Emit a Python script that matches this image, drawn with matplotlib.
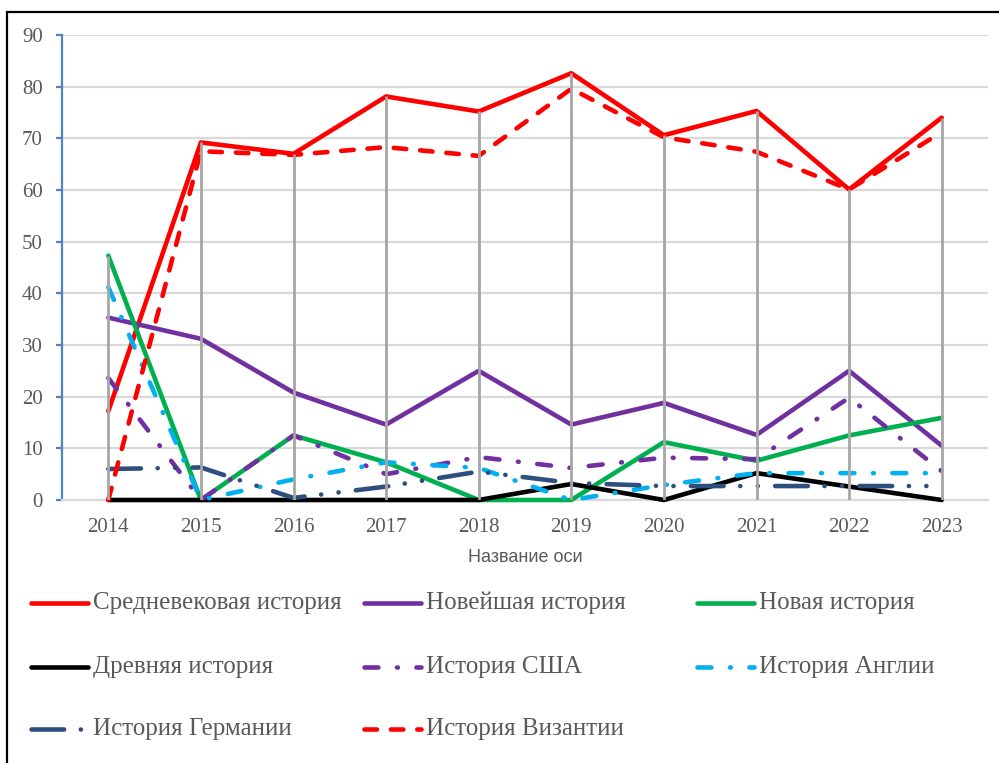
import matplotlib
matplotlib.use('Agg')
import matplotlib.pyplot as plt
from matplotlib.lines import Line2D
from matplotlib.patches import Rectangle
import numpy as np

# data
years = ['2014', '2015', '2016', '2017', '2018', '2019', '2020', '2021', '2022', '2023']
medieval = [17.2, 69.2, 67.0, 78.1, 75.2, 82.6, 70.6, 75.3, 60.1, 74.0]
newest = [35.3, 31.2, 20.8, 14.6, 25.0, 14.6, 18.8, 12.6, 25.0, 10.5]
modern = [47.3, 0, 12.5, 7.3, 0, 0, 11.2, 7.6, 12.5, 15.9]
ancient = [0, 0, 0, 0, 0, 3.1, 0, 5.2, 2.6, 0]
usa = [23.6, 0, 12.5, 5.0, 8.3, 6.2, 8.2, 7.9, 19.8, 5.6]
england = [41.2, 0, 4.0, 7.3, 6.2, 0, 2.9, 5.2, 5.2, 5.2]
germany = [6.0, 6.3, 0.4, 2.6, 5.5, 3.3, 2.7, 2.7, 2.7, 2.7]
byzantium = [0, 67.5, 66.8, 68.3, 66.6, 79.6, 70.2, 67.4, 60.1, 71.2]

names = ['Средневековая история', 'Новейшая история', 'Новая история',
         'Древняя история', 'История США', 'История Англии',
         'История Германии', 'История Византии']
values = [medieval, newest, modern, ancient, usa, england, germany, byzantium]

colors = ['#FF0000', '#7030A0', '#00B050', '#000000',
          '#7030A0', '#00B0F0', '#2E4F7E', '#FF0000']
# dash patterns in points (None = solid line)
dash_dot = (10, 13.4, 0.6, 13.4)
dashes = [None, None, None, None,
          dash_dot, dash_dot,
          (23.5, 12, 0.1, 12.5, 0.1, 12.5),
          (9, 10)]

plt.rcParams['lines.scale_dashes'] = False
serif = 'Liberation Serif'
grey_txt = '#595959'
LW = 3.3

W, H = 999, 763
fig = plt.figure(figsize=(W / 100, H / 100), dpi=100)
fig.patch.set_facecolor('white')

def fx(px):
    return px / W

def fy(py):
    return 1 - py / H

ax = fig.add_axes([fx(62), fy(500), fx(988) - fx(62), fy(35) - fy(500)])
x = np.arange(len(years))

ax.set_xlim(-0.5, len(years) - 0.5)
ax.set_ylim(0, 90)
ax.set_yticks(range(0, 91, 10))
ax.set_xticks(x)
ax.set_xticklabels(years)

ax.grid(axis='y', color='#D9D9D9', linewidth=1.6, zorder=0)
ax.set_axisbelow(True)
for s in ['top', 'right']:
    ax.spines[s].set_visible(False)
ax.spines['bottom'].set_color('#D9D9D9')
ax.spines['bottom'].set_linewidth(1.6)
ax.spines['left'].set_color('#5082C4')
ax.spines['left'].set_linewidth(1.6)

ax.tick_params(axis='y', colors='#5082C4', length=4.3, width=1.6, pad=9.4,
               labelcolor=grey_txt, labelsize=15)
ax.tick_params(axis='x', length=0, pad=13, labelcolor=grey_txt, labelsize=15)
for lab in ax.get_xticklabels() + ax.get_yticklabels():
    lab.set_family(serif)

ax.set_xlabel('Название оси', family='Liberation Sans', fontsize=13,
              color=grey_txt, va='center')
ax.xaxis.set_label_coords(0.5, -0.1226)

def style_line(line, color, dsh):
    line.set_color(color)
    line.set_linewidth(LW)
    line.set_solid_joinstyle('round')
    line.set_solid_capstyle('round')
    if dsh is not None:
        line.set_dashes(dsh)
        line.set_dash_capstyle('round')
        line.set_dash_joinstyle('round')

for i, (vals, c, d) in enumerate(zip(values, colors, dashes)):
    ln, = ax.plot(x, vals, clip_on=False, zorder=3 + i)
    style_line(ln, c, d)

# drop lines from the axis up to the highest point of each year
tops = np.max(np.array(values), axis=0)
ax.vlines(x, 0, tops, color='#A6A6A6', linewidth=2.0, zorder=20)

# legend, laid out like the Excel one (equal columns)
col_x = [31, 364, 697]
row_y = [603, 667, 729]
handle_len = 57
for i, (name, c, d) in enumerate(zip(names, colors, dashes)):
    r, col = divmod(i, 3)
    x0 = col_x[col]
    h = Line2D([fx(x0), fx(x0 + handle_len)], [fy(row_y[r]), fy(row_y[r])],
               transform=fig.transFigure)
    style_line(h, c, d)
    fig.add_artist(h)
    fig.text(fx(x0 + handle_len + 5), fy(row_y[r]), name, family=serif,
             fontsize=18, color=grey_txt, va='center', ha='left')

# chart frame
frame = Rectangle((fx(7), -0.05), 1.2, fy(12) + 0.05, transform=fig.transFigure,
                  fill=False, edgecolor='black', linewidth=1.6)
fig.add_artist(frame)

fig.savefig('out.png', dpi=100)
